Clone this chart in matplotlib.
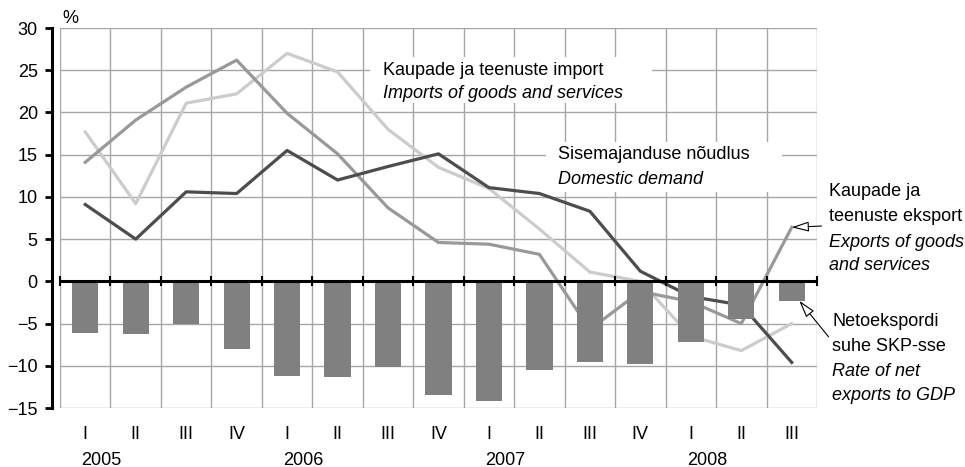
import matplotlib
matplotlib.use('Agg')
import matplotlib.pyplot as plt
from matplotlib.patches import Rectangle
import numpy as np

plt.rcParams['font.family'] = ['Liberation Sans', 'DejaVu Sans']

quarters = ['I', 'II', 'III', 'IV', 'I', 'II', 'III', 'IV',
            'I', 'II', 'III', 'IV', 'I', 'II', 'III']
years = ['2005', '2006', '2007', '2008']
year_start = [0, 4, 8, 12]

net_exports = [-6.1, -6.2, -5.1, -8.0, -11.2, -11.3, -10.2, -13.4,
               -14.2, -10.5, -9.6, -9.8, -7.2, -4.5, -2.3]
imports = [17.7, 9.2, 21.1, 22.2, 27.0, 24.8, 18.0, 13.5,
           11.0, 6.2, 1.1, 0.0, -6.5, -8.2, -5.0]
exports = [14.1, 19.1, 23.0, 26.2, 19.9, 15.1, 8.7, 4.6,
           4.4, 3.2, -5.7, -1.2, -2.4, -5.0, 6.4]
domestic = [9.1, 5.0, 10.6, 10.4, 15.5, 12.0, 13.6, 15.1,
            11.1, 10.4, 8.3, 1.2, -1.8, -2.8, -9.6]

x = np.arange(len(quarters))

fig = plt.figure(figsize=(9.65, 4.67), dpi=100)
ax = fig.add_axes([0.0622, 0.1263, 0.7844, 0.8137])

ax.set_xlim(-0.5, len(quarters) - 0.5)
ax.set_ylim(-15, 30)

grid_col = '#a6a6a6'
for b in np.arange(-0.5, len(quarters), 1.0):
    ax.axvline(b, color=grid_col, lw=1.0, zorder=1)
for yv in range(-15, 31, 5):
    ax.axhline(yv, color=grid_col, lw=1.0, zorder=1)

# white boxes behind the in-plot labels
ax.add_patch(Rectangle((5.64, 21.1), 5.6, 5.5, facecolor='white',
                       edgecolor='none', zorder=1.5))
ax.add_patch(Rectangle((9.14, 10.6), 4.66, 5.9, facecolor='white',
                       edgecolor='none', zorder=1.5))

ax.plot(x, imports, color='#cccccc', lw=2.3, zorder=2)
ax.plot(x, exports, color='#999999', lw=2.3, zorder=2)
ax.plot(x, domestic, color='#4d4d4d', lw=2.3, zorder=2)
ax.bar(x, net_exports, width=0.52, color='#808080', zorder=3)

ax.axhline(0, color='black', lw=2.2, zorder=4)
bounds = np.arange(-0.5, len(quarters), 1.0)
ax.plot(bounds, np.zeros(len(bounds)), '|', color='black', ms=7, mew=1.5,
        zorder=4, clip_on=False)

for s in ['top', 'right', 'bottom']:
    ax.spines[s].set_visible(False)
ax.spines['left'].set_position(('outward', 6))
ax.spines['left'].set_linewidth(2.2)
ax.set_yticks(range(-15, 31, 5))
ax.tick_params(axis='y', length=5, width=2.0, labelsize=13, pad=5)
ax.set_xticks(x)
ax.set_xticklabels(quarters)
ax.tick_params(axis='x', length=0, labelsize=13, pad=13)

for yr, s in zip(years, year_start):
    ax.text(s + 0.32, -0.137, yr, transform=ax.get_xaxis_transform(),
            ha='center', va='center', fontsize=13)

ax.text(0.003, 1.026, '%', transform=ax.transAxes, ha='left', va='center',
        fontsize=13)

fs = 13
ax.text(5.9, 25.0, 'Kaupade ja teenuste import', ha='left', va='center',
        fontsize=fs, zorder=5)
ax.text(5.9, 22.2, 'Imports of goods and services', ha='left', va='center',
        fontsize=fs, style='italic', zorder=5)
ax.text(9.36, 15.0, 'Sisemajanduse nõudlus', ha='left', va='center',
        fontsize=fs, zorder=5)
ax.text(9.36, 12.1, 'Domestic demand', ha='left', va='center',
        fontsize=fs, style='italic', zorder=5)

right_lines = [('Kaupade ja', 10.6, 'normal'),
               ('teenuste eksport', 7.7, 'normal'),
               ('Exports of goods', 4.65, 'italic'),
               ('and services', 1.9, 'italic')]
for t, yv, st in right_lines:
    ax.text(14.73, yv, t, ha='left', va='center', fontsize=fs, style=st,
            clip_on=False)

net_lines = [('Netoekspordi', -4.8, 'normal'),
             ('suhe SKP-sse', -7.7, 'normal'),
             ('Rate of net', -10.7, 'italic'),
             ('exports to GDP', -13.5, 'italic')]
for t, yv, st in net_lines:
    ax.text(14.8, yv, t, ha='left', va='center', fontsize=fs, style=st,
            clip_on=False)

arrow = dict(arrowstyle='-|>,head_length=0.75,head_width=0.22', fc='white',
             ec='black', lw=0.8, mutation_scale=14, shrinkA=0, shrinkB=0)
ax.annotate('', xy=(14.0, exports[-1]), xytext=(14.59, 6.55),
            arrowprops=arrow, annotation_clip=False, zorder=6)
ax.annotate('', xy=(14.15, net_exports[-1]), xytext=(14.73, -6.57),
            arrowprops=arrow, annotation_clip=False, zorder=6)

fig.savefig('out.png', dpi=100)
